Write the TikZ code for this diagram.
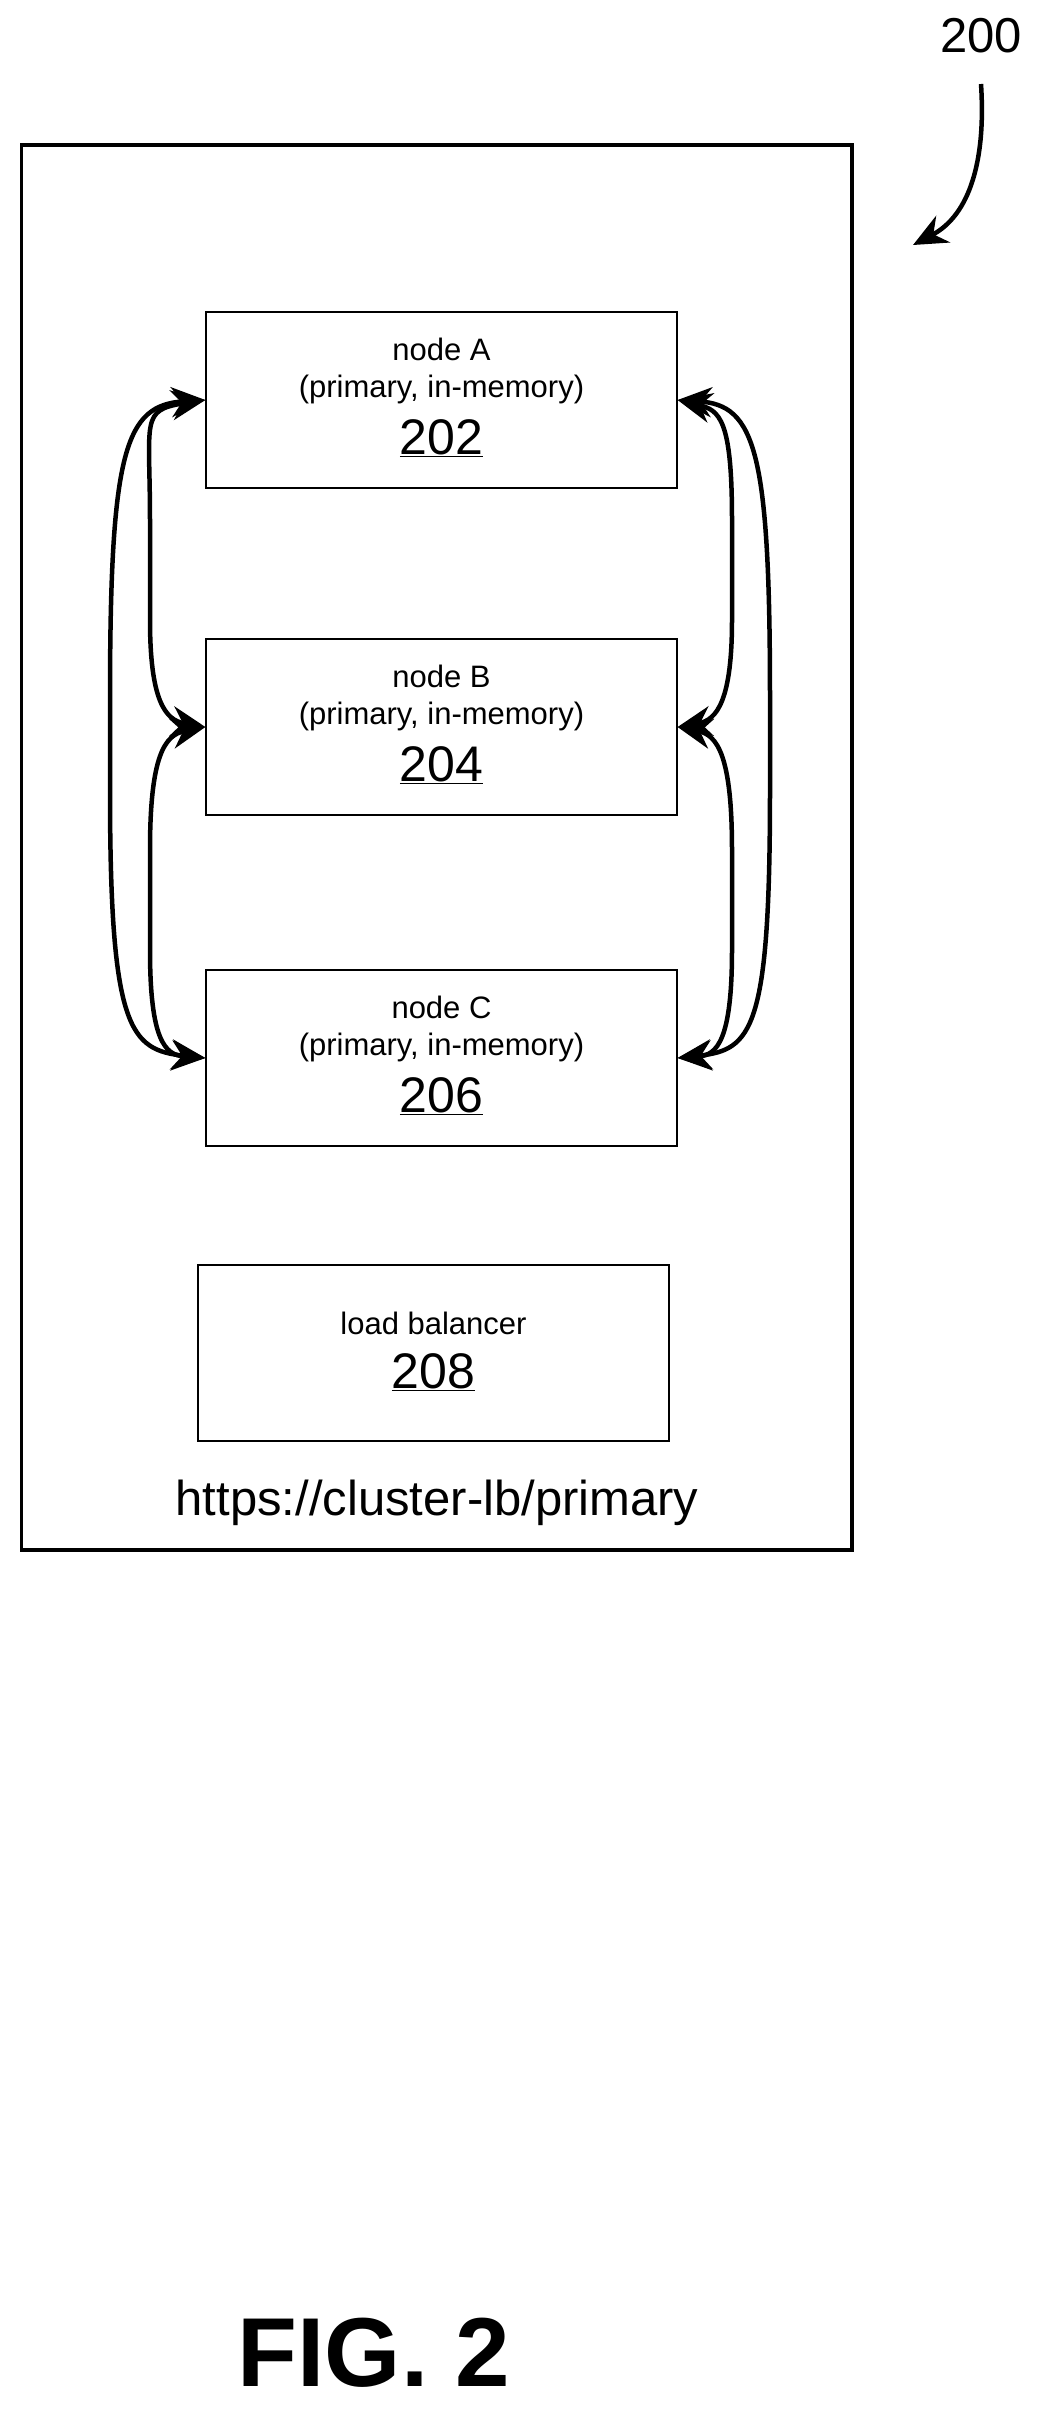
\documentclass[tikz,border=0pt]{standalone}
\usepackage{fontspec}
\setmainfont{Liberation Sans}
\usetikzlibrary{arrows.meta}
\begin{document}
\begin{tikzpicture}[x=1pt,y=-1pt,
 box/.style={draw,line width=1.2pt,minimum width=471pt,minimum height=176pt,inner sep=0pt},
 txt/.style={font=\fontsize{31}{36}\selectfont,inner sep=0pt},
 num/.style={font=\fontsize{50}{56}\selectfont,inner sep=0pt},
 arr/.style={line width=4.5pt,{Stealth[length=34pt,width=30pt]}-{Stealth[length=34pt,width=30pt]}}]
\useasboundingbox (0,0) rectangle (1046,2421);
\draw[line width=3.5pt] (21.5,145) rectangle (852,1550);
\foreach \n/\y/\l/\v in {A/400/A/202,B/727/B/204,C/1058/C/206}{
  \node[box] (\n) at (441.5,\y) {};
  \node[txt] (\n1) at ([yshift=51pt]\n.center) {node \l};
  \node[txt] (\n2) at ([yshift=11pt]\n.center) {(primary, in-memory)};
  \node[num] (\n3) at ([yshift=-38pt]\n.center) {\underline{\v}};
}
\node[box] (L) at (433.5,1353) {};
\node[txt] (L1) at ([yshift=30pt]L.center) {load balancer};
\node[num] (L2) at ([yshift=-19pt]L.center) {\underline{208}};
\node[font=\fontsize{49}{56}\selectfont] (url) at (437,1503) {https://cluster-lb/primary};
\node[font=\fontsize{49}{56}\selectfont] (n200) at (981,36) {200};
\coordinate (s200) at (981,84);
\coordinate (e200) at (913,245);
\draw[line width=4.5pt,-{Stealth[length=34pt,width=30pt]}] (s200) .. controls (986,160) and (970,215) .. (e200);
\draw[arr] (A.west) .. controls (140,410) and (150,420) .. (150,520) -- (150,620) .. controls (150,700) and (165,720) .. (B.west);
\draw[arr] (B.west) .. controls (165,735) and (150,755) .. (150,850) -- (150,950) .. controls (150,1040) and (165,1055) .. (C.west);
\draw[arr] (A.west) .. controls (125,405) and (110,450) .. (110,700) -- (110,790) .. controls (110,1030) and (130,1050) .. (C.west);
\draw[arr] (A.east) .. controls (720,410) and (732,420) .. (732,520) -- (732,620) .. controls (732,700) and (717,720) .. (B.east);
\draw[arr] (B.east) .. controls (717,735) and (732,755) .. (732,850) -- (732,950) .. controls (732,1040) and (717,1055) .. (C.east);
\draw[arr] (A.east) .. controls (755,405) and (770,450) .. (770,700) -- (770,790) .. controls (770,1030) and (752,1050) .. (C.east);
\node[font=\fontsize{98}{100}\selectfont\bfseries] (fig) at (374,2353) {FIG. 2};
\end{tikzpicture}
\end{document}
